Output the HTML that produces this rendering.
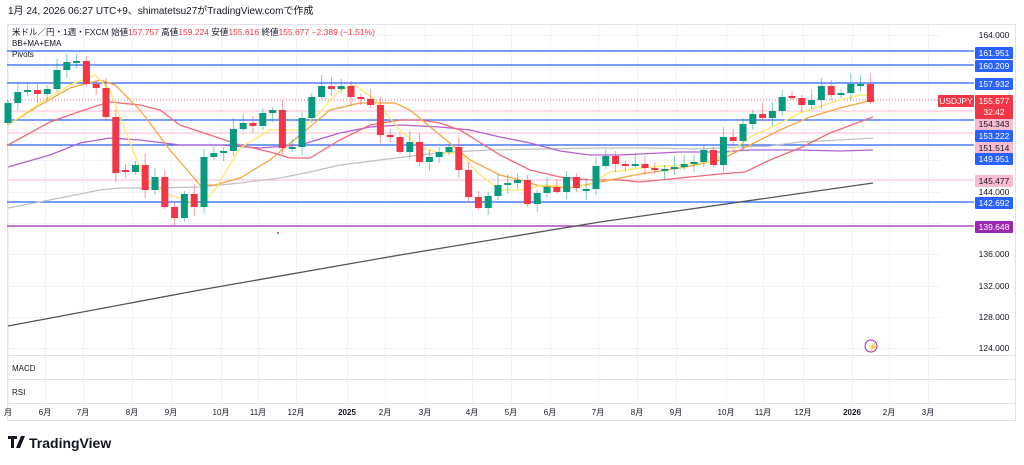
<!DOCTYPE html>
<html><head><meta charset="utf-8"><style>
body{margin:0;background:#fff;width:1024px;height:465px;overflow:hidden;font-family:"Liberation Sans","Noto Sans CJK JP",sans-serif}
svg{position:absolute;left:0;top:0}
</style></head><body>
<svg id="s" width="1024" height="465" xmlns="http://www.w3.org/2000/svg" font-family="Liberation Sans, Noto Sans CJK JP, sans-serif">
<text x="8" y="14" font-size="10" fill="#131722">1月 24, 2026 06:27 UTC+9、shimatetsu27がTradingView.comで作成</text>
<rect x="7.5" y="24.5" width="1008" height="396" fill="none" stroke="#e0e3eb"/>
<g id="grid" stroke="#f0f3fa" stroke-width="1"></g>
<line x1="7" y1="355.5" x2="1016" y2="355.5" stroke="#e0e3eb"/>
<line x1="7" y1="379.5" x2="1016" y2="379.5" stroke="#e0e3eb"/>
<line x1="7" y1="403.5" x2="1016" y2="403.5" stroke="#e0e3eb"/>
<g id="hl"></g>
<g id="ma" fill="none" stroke-width="1.3"></g>
<g id="cd"></g>
<g id="lab" font-size="8.5"></g>
<text x="12" y="35" font-size="8.5" fill="#131722">米ドル／円・1週・FXCM  始値<tspan fill="#f23645">157.757</tspan>  高値<tspan fill="#f23645">159.224</tspan>  安値<tspan fill="#f23645">155.616</tspan>  終値<tspan fill="#f23645">155.677  −2.389 (−1.51%)</tspan></text>
<text x="12" y="46" font-size="8" fill="#131722">BB+MA+EMA</text>
<text x="12" y="57" font-size="8" fill="#131722">Pivots</text>
<text x="12" y="371" font-size="8" fill="#131722">MACD</text>
<text x="12" y="395" font-size="8" fill="#131722">RSI</text>
<circle cx="871" cy="346" r="6" fill="none" stroke="#9c27b0" stroke-width="1"/>
<text x="868" y="349.5" font-size="8" fill="#9c27b0">⚡</text>
<circle cx="278" cy="233" r="1" fill="#f23645"/>
<g id="ax" font-size="8" fill="#131722"></g>
<g transform="translate(8,436)"><path d="M0 0h9v3h-3v9h-3v-9h-3z M8 12l5-12h4l-5 12z" fill="#131722"/></g>
<text x="29" y="448" font-size="14" font-weight="bold" fill="#131722">TradingView</text>
</svg>
<script>
const S=document.getElementById('s'),NS='http://www.w3.org/2000/svg';
function el(p,t,a,txt){const e=document.createElementNS(NS,t);for(const k in a)e.setAttribute(k,a[k]);if(txt!==undefined)e.textContent=txt;document.getElementById(p).appendChild(e);return e;}
const months=[[8,'月'],[45,'6月'],[83,'7月'],[132,'8月'],[171,'9月'],[221,'10月'],[258,'11月'],[296,'12月'],[347,'2025'],[385,'2月'],[425,'3月'],[472,'4月'],[511,'5月'],[550,'6月'],[598,'7月'],[637,'8月'],[676,'9月'],[726,'10月'],[763,'11月'],[803,'12月'],[852,'2026'],[889,'2月'],[928,'3月']];
months.forEach(([x,t])=>{el('grid','line',{x1:x+.5,y1:25,x2:x+.5,y2:403});const bold=t.length==4;el('ax','text',{x:x,y:415,'text-anchor':'middle','font-weight':bold?'bold':'normal'},t);});
[35,67,98,129,160,192,223,254,286,317,348].forEach(y=>el('grid','line',{x1:7,y1:y+.5,x2:940,y2:y+.5}));
const hl=[[51,53,'#2962ff','161.951'],[65,66,'#2962ff','160.209'],[83,84,'#2962ff','157.932'],[111,124,'#f8bbd0','154.343'],[120,136,'#2962ff','153.222'],[133,148,'#f8bbd0','151.514'],[145,159,'#2962ff','149.951'],[180,181,'#f8bbd0','145.477'],[202,203,'#2962ff','142.692'],[226,227,'#9c27b0','139.648']];
hl.forEach(([y,ly,c,t])=>{el('hl','line',{x1:7,y1:y,x2:974,y2:y,stroke:c,'stroke-width':c=='#f8bbd0'?1:1.3});
 const txt=c=='#f8bbd0'?'#131722':'#fff';el('lab','rect',{x:975,y:ly-6,width:38,height:12,fill:c,rx:1});el('lab','text',{x:994,y:ly+3,'text-anchor':'middle',fill:txt},t);});
el('hl','line',{x1:7,y1:100,x2:974,y2:100,stroke:'#f23645','stroke-dasharray':'1 2','stroke-width':0.8});
el('lab','rect',{x:938,y:95,width:36,height:12,fill:'#f23645',rx:1});
el('lab','text',{x:956,y:104,'text-anchor':'middle',fill:'#fff'},'USDJPY');
el('lab','rect',{x:975,y:95,width:38,height:24,fill:'#f23645',rx:1});
el('lab','text',{x:994,y:104,'text-anchor':'middle',fill:'#fff'},'155.677');
el('lab','text',{x:994,y:115,'text-anchor':'middle',fill:'#fff'},'32:42');
[[35,'164.000'],[192,'144.000'],[254,'136.000'],[286,'132.000'],[317,'128.000'],[348,'124.000']].forEach(([y,t])=>el('lab','text',{x:994,y:y+3,'text-anchor':'middle',fill:'#131722'},t));
const mas=[
['#c0c0c0',[[8,208],[60,198],[100,190],[120,188],[150,188],[200,187],[240,183],[280,178],[310,172],[340,165],[380,160],[420,155],[450,152],[490,150],[540,149],[600,148],[650,148],[700,149],[740,147],[770,146],[800,142],[840,140],[873,138]]],
['#555',[[8,326],[200,290],[400,255],[600,222],[873,183]]],
['#b25fd3',[[8,167],[50,155],[80,143],[110,138],[140,140],[180,145],[220,145],[260,148],[300,145],[340,133],[370,127],[400,125],[440,127],[470,130],[500,137],[530,143],[560,151],[590,155],[620,155],[680,152],[720,152],[750,150],[800,150],[840,151],[873,150]]],
['#f06a78',[[8,145],[50,122],[90,108],[110,102],[140,105],[160,110],[180,125],[210,135],[240,145],[270,152],[290,158],[310,158],[340,140],[370,125],[400,120],[420,120],[440,123],[460,130],[500,155],[530,170],[560,177],[590,180],[620,180],[640,182],[680,178],[720,174],[745,172],[770,160],[800,148],[830,133],[873,117]]],
['#f7a440',[[8,125],[40,105],[70,88],[100,80],[115,85],[140,110],[170,150],[200,185],[215,185],[240,178],[270,160],[300,135],[330,110],[360,103],[395,103],[410,110],[440,135],[470,160],[500,175],[520,180],[540,186],[570,188],[600,182],[640,174],[680,168],[720,160],[750,145],[780,130],[810,117],[840,108],[873,100]]],
['#fde96a',[[8,125],[40,103],[70,85],[95,75],[110,90],[125,130],[145,180],[170,195],[200,205],[215,190],[240,148],[270,130],[300,130],[320,112],[340,90],[355,85],[375,100],[400,130],[420,147],[440,153],[460,153],[480,175],[500,190],[520,190],[545,185],[570,187],[590,185],[610,172],[640,168],[680,165],[710,162],[730,152],[750,137],[770,128],[800,113],[830,103],[860,95],[873,96]]]];
mas.forEach(([c,p])=>el('ma','polyline',{stroke:c,points:p.map(q=>q.join(',')).join(' ')}));
const ys=[103,92,90,94,89,70,62,61,84,88,117,173,172,165,190,177,207,218,194,207,157,153,151,129,123,126,113,110,148,147,118,97,86,89,86,97,99,105,135,137,152,142,162,157,152,147,170,197,208,196,185,183,180,204,193,187,192,177,188,189,166,156,164,166,164,168,170,169,167,164,162,150,165,137,141,124,114,118,111,97,98,105,100,86,95,93,84,84,102];
let o=123;
ys.forEach((c,i)=>{const x=8+i*9.8;let op=o;if(Math.abs(op-c)<1.5)op=c+(i%2?2:-2);
 const up=c<op,col=up?'#089981':'#f23645';const top=Math.min(op,c),bot=Math.max(op,c);
 const h=top-(3+(i*7)%9),l=bot+(2+(i*5)%8);
 const hh=i==88?74:h;
 el('cd','line',{x1:x,y1:hh,x2:x,y2:l,stroke:col,'stroke-opacity':0.5,'stroke-width':1});
 el('cd','rect',{x:x-3.5,y:top,width:7,height:Math.max(1.5,bot-top),fill:col});o=c;});
</script>
</body></html>
